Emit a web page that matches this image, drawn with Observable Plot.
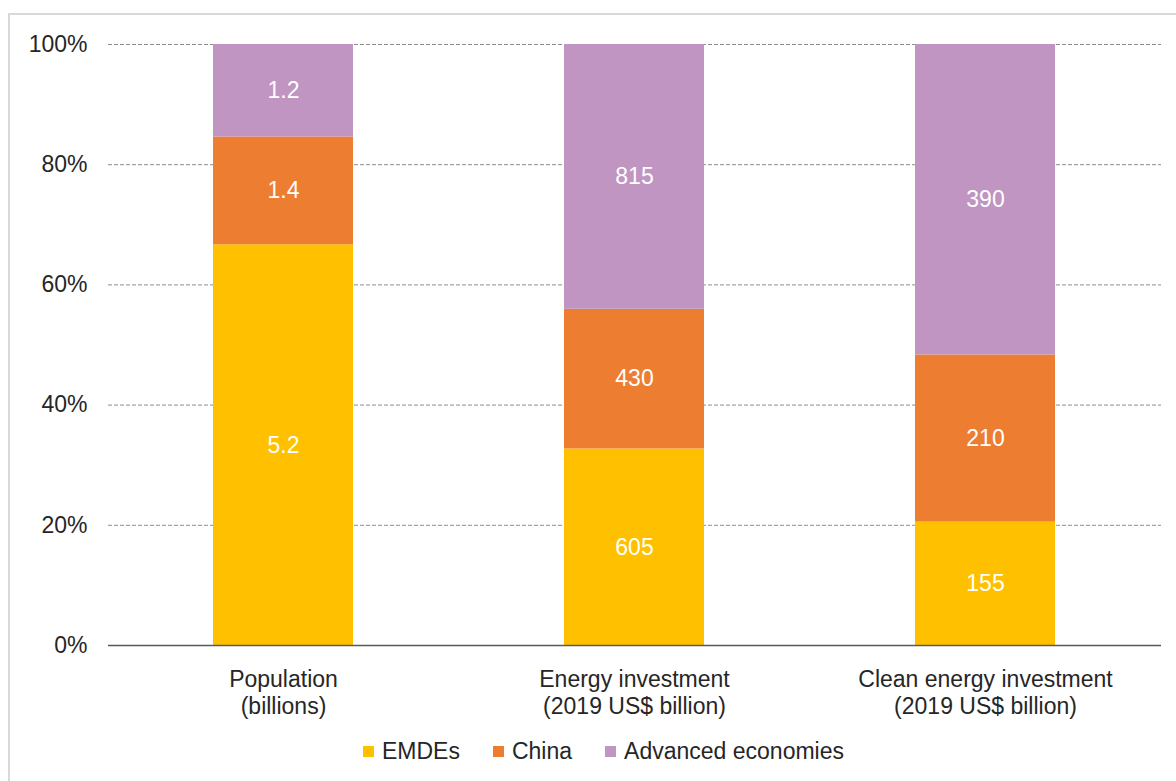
<!DOCTYPE html>
<html>
<head>
<meta charset="utf-8">
<script src="https://cdn.jsdelivr.net/npm/d3@7"></script>
<script src="https://cdn.jsdelivr.net/npm/@observablehq/plot@0.6"></script>
<style>
  html, body { margin: 0; padding: 0; background: #fff; }
  body { width: 1176px; height: 781px; position: relative; overflow: hidden; font-family: "Liberation Sans", Arial, sans-serif; }
  #frame { position: absolute; left: 8px; top: 13px; width: 1168px; height: 768px; border-top: 2px solid #d9d9d9; border-left: 2px solid #d9d9d9; box-sizing: border-box; }
  #chart { position: absolute; left: 0; top: 0; }
  #legend { position: absolute; top: 738px; left: 363px; display: flex; align-items: center; font-size: 23px; color: #262626; }
  .item { display: flex; align-items: center; margin-right: 33px; }
  .sw { width: 11px; height: 11px; margin-right: 8px; }
</style>
</head>
<body>
<div id="frame"></div>
<div id="chart"></div>
<div id="legend"></div>
<script>
const categories = ["Population\n(billions)", "Energy investment\n(2019 US$ billion)", "Clean energy investment\n(2019 US$ billion)"];
const series = ["EMDEs", "China", "Advanced economies"];
const colors = ["#FFC000", "#ED7D31", "#C095C2"];
const emdesValues = [5.2, 605, 155];
const chinaValues = [1.4, 430, 210];
const advancedValues = [1.2, 815, 390];
const emdesLabels = ["5.2", "605", "155"];
const chinaLabels = ["1.4", "430", "210"];
const advancedLabels = ["1.2", "815", "390"];
const yTicks = [0, 0.2, 0.4, 0.6, 0.8, 1];

const valuesBySeries = [emdesValues, chinaValues, advancedValues];
const labelsBySeries = [emdesLabels, chinaLabels, advancedLabels];
const data = [];
categories.forEach((c, i) => {
  series.forEach((s, j) => {
    data.push({cat: c, series: s, value: valuesBySeries[j][i], label: labelsBySeries[j][i]});
  });
});

const stackOpts = {offset: "normalize", x: "cat", y: "value", z: "series", order: series};

const plot = Plot.plot({
  width: 1176,
  height: 720,
  marginLeft: 108,
  marginRight: 15,
  marginTop: 44,
  marginBottom: 75,
  style: {fontFamily: "'Liberation Sans', Arial, sans-serif", color: "#262626", background: "transparent"},
  x: {domain: categories, paddingInner: 0.6, paddingOuter: 0.3, label: null},
  y: {domain: [0, 1], label: null},
  color: {domain: series, range: colors},
  marks: [
    Plot.gridY(yTicks.filter(d => d > 0), {stroke: "#8c8c8c", strokeOpacity: 1, strokeDasharray: "4,2", strokeWidth: 1}),
    Plot.barY(data, Plot.stackY({...stackOpts, fill: "series"})),
    Plot.text(data, Plot.stackY({...stackOpts, text: "label", fill: "white", fontSize: 23})),
    Plot.ruleY([0], {stroke: "#595959", strokeWidth: 1.5}),
    Plot.axisY({ticks: yTicks, tickFormat: d3.format(".0%"), tickSize: 0, tickPadding: 21, fontSize: 23, label: null}),
    Plot.axisX({tickSize: 0, tickPadding: 22, fontSize: 23, lineHeight: 1.17, label: null})
  ]
});
document.getElementById("chart").appendChild(plot);

const legend = document.getElementById("legend");
series.forEach((s, i) => {
  const item = document.createElement("div");
  item.className = "item";
  const sw = document.createElement("div");
  sw.className = "sw";
  sw.style.background = colors[i];
  const t = document.createElement("span");
  t.textContent = s;
  item.appendChild(sw);
  item.appendChild(t);
  legend.appendChild(item);
});
</script>
</body>
</html>
